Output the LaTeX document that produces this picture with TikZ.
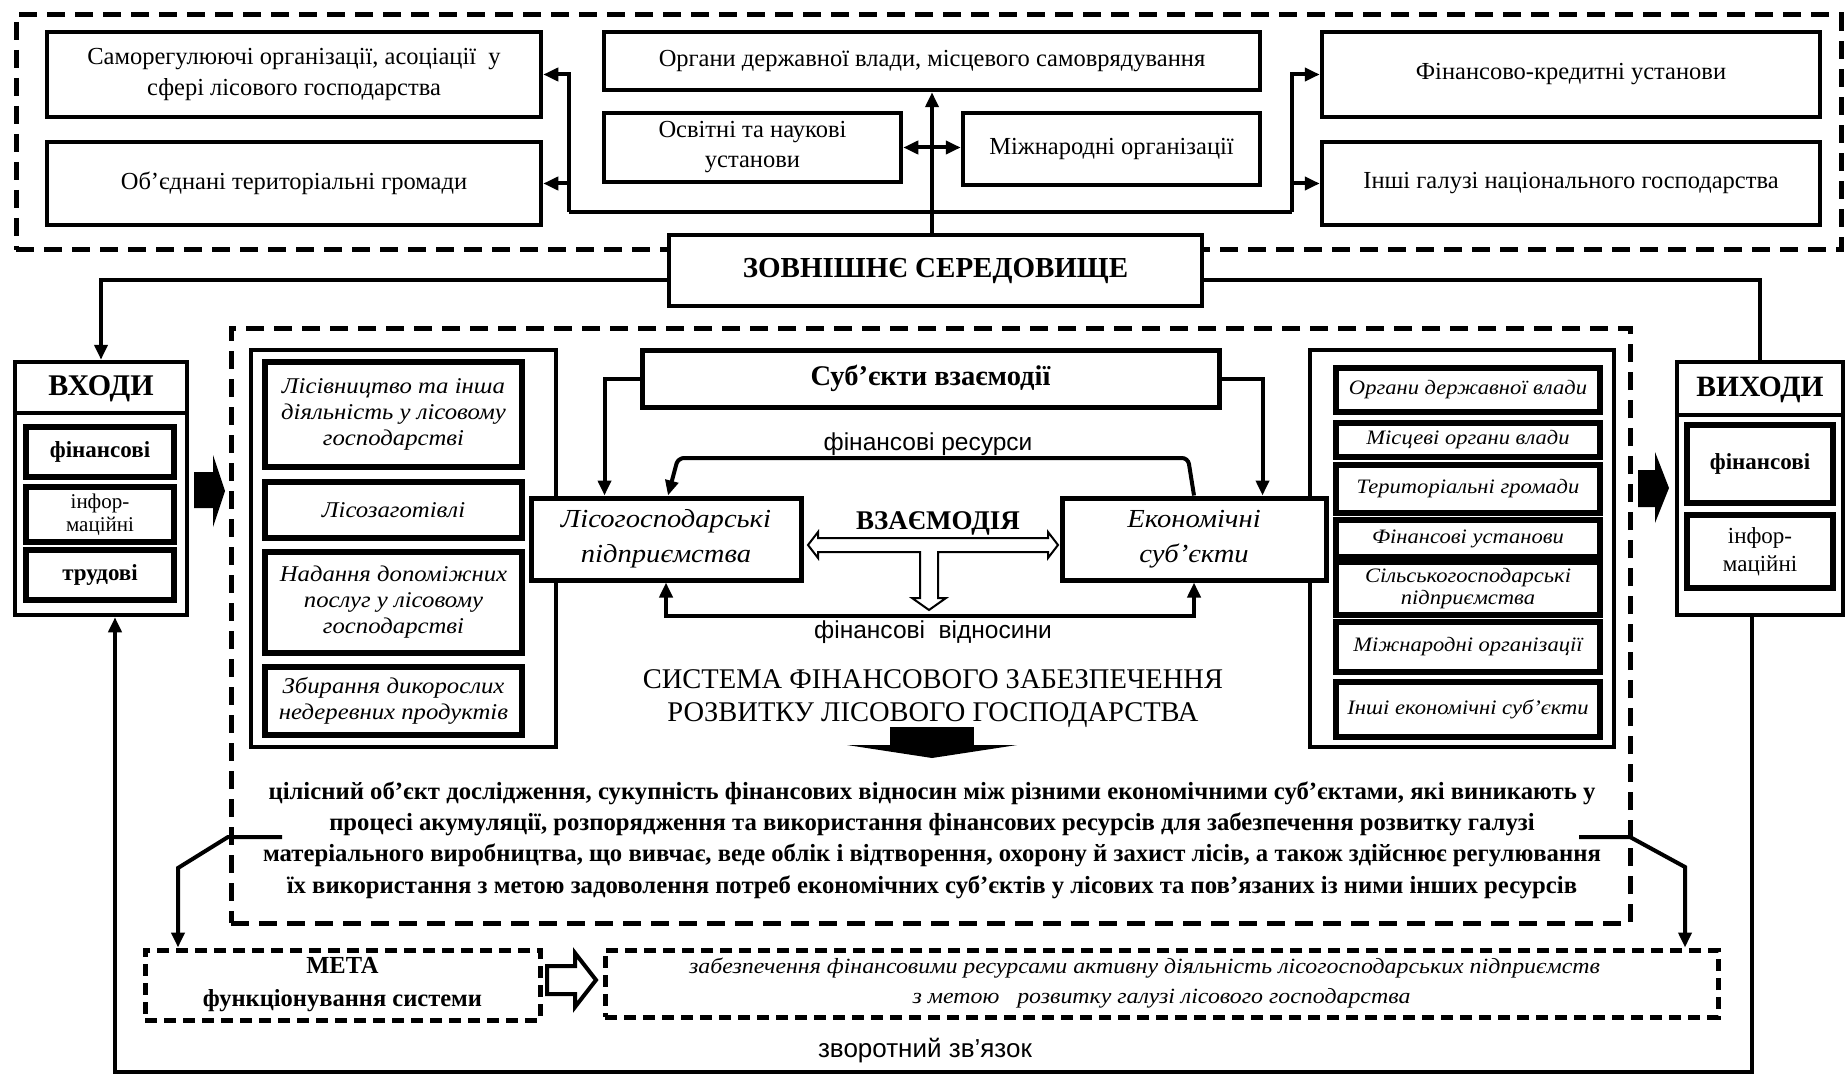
\documentclass[tikz,border=0pt]{standalone}
\usepackage{fontspec}
\setmainfont{Liberation Serif}
\setsansfont{Liberation Sans}
\newfontfamily\wideit{Liberation Serif}[FakeStretch=1.1]
\usetikzlibrary{arrows.meta}
\begin{document}
\begin{tikzpicture}[x=1pt,y=-1pt,
  sz/.style 2 args={minimum width=#1pt, minimum height=#2pt},
  box/.style={draw, line width=4.5pt, fill=white, align=center, inner sep=0pt, font=\fontsize{24.5}{30}\selectfont},
  ibox/.style={draw, line width=5.5pt, fill=white, align=center, inner sep=0pt, font=\wideit\itshape\fontsize{20.5}{23}\selectfont},
  lbox/.style={ibox, font=\wideit\itshape\fontsize{22.5}{26}\selectfont},
  cont/.style={draw, line width=4pt, fill=white, inner sep=0pt},
  vbox/.style={draw, line width=5.5pt, fill=white, align=center, inner sep=0pt},
  dbox/.style={draw, dash pattern=on 18pt off 10pt, line width=5pt, inner sep=0pt},
  mbox/.style={draw, dash pattern=on 12pt off 7pt, line width=5pt, inner sep=0pt, align=center},
  conn/.style={line width=4pt},
  tip/.tip={Triangle[length=15pt,width=13pt]},
  arr/.style={conn, -tip},
  darr/.style={conn, tip-tip},
  lbl/.style={font=\sffamily\fontsize{24.5}{26}\selectfont, inner sep=0pt}
]
\useasboundingbox (0,0) rectangle (1846,1075);
\fill[white] (0,0) rectangle (1846,1075);

% ===== external environment =====
\node[dbox, sz={1825}{235}] (ext) at (928.5,132.5) {};
\node[box, sz={494}{85}] (sro) at (294,74.5) {Саморегулюючі організації, асоціації\ \ у\\сфері лісового господарства};
\node[box, sz={494}{83}] (otg) at (294,183.5) {Об’єднані територіальні громади};
\node[box, sz={656}{58}] (organy) at (932,61) {Органи державної влади, місцевого самоврядування};
\node[box, sz={297}{69}] (osvit) at (752.5,147.5) {Освітні та наукові\\установи};
\node[box, sz={297}{72}] (mizhn) at (1111.5,149) {Міжнародні організації};
\node[box, sz={498}{85}] (fink) at (1571,74.5) {Фінансово-кредитні установи};
\node[box, sz={498}{83}] (inshi) at (1571,183.5) {Інші галузі національного господарства};
\node[box, sz={533}{71}, font=\bfseries\fontsize{29}{32}\selectfont] (zovn) at (935.5,270.5) {ЗОВНІШНЄ СЕРЕДОВИЩЕ};

\coordinate (L) at (569,212);
\coordinate (R) at (1292,212);
\draw[conn] (L) -- (R);
\draw[arr] (L) |- (sro.east);
\draw[arr] (otg.east -| L) -- (otg.east);
\draw[arr] (R) |- (fink.west);
\draw[arr] (inshi.west -| R) -- (inshi.west);
\draw[arr] (organy.south |- zovn.north) -- (organy.south);
\draw[darr] (osvit.east) -- (osvit.east -| mizhn.west);

% ===== inputs / outputs =====
\node[cont, line width=4.5pt, sz={172}{253}] (vhody) at (101,488.5) {};
\draw[line width=4pt] ([yshift=-53pt]vhody.north west) -- ([yshift=-53pt]vhody.north east);
\node[font=\bfseries\fontsize{30}{32}\selectfont, inner sep=0pt] (vhodyt) at (101,389) {ВХОДИ};
\node[vbox, sz={148}{50}, font=\bfseries\fontsize{23}{26}\selectfont] (vfin) at (100,452) {фінансові};
\node[vbox, sz={148}{55}, font=\fontsize{21}{23}\selectfont] (vinf) at (100,514.5) {інфор-\\маційні};
\node[vbox, sz={148}{50}, font=\bfseries\fontsize{23}{26}\selectfont] (vtrud) at (100,575) {трудові};

\node[cont, line width=4.5pt, sz={166}{253}] (vyhody) at (1760,488.5) {};
\draw[line width=4pt] ([yshift=-55pt]vyhody.north west) -- ([yshift=-55pt]vyhody.north east);
\node[font=\bfseries\fontsize{29.5}{32}\selectfont, inner sep=0pt] (vyhodyt) at (1760,390) {ВИХОДИ};
\node[vbox, sz={146}{78}, font=\bfseries\fontsize{23}{26}\selectfont] (yfin) at (1760,464) {фінансові};
\node[vbox, sz={146}{73}, font=\fontsize{23}{28}\selectfont] (yinf) at (1760,551.5) {інфор-\\маційні};

\draw[arr] ([yshift=-9pt]zovn.west) -| (vhody.north);
\draw[conn] ([yshift=-9pt]zovn.east) -| (vyhody.north);

% ===== system (big dashed) =====
\node[dbox, sz={1399}{595}] (sys) at (930.5,625.5) {};

% block arrows in/out
\fill (194,472) -- (213,472) -- (213,455) -- (225,491) -- (213,527) -- (213,508) -- (194,508) -- cycle;
\fill (1638,470) -- (1655,470) -- (1655,452) -- (1669,488) -- (1655,523) -- (1655,507) -- (1638,507) -- cycle;

% left container
\node[cont, sz={305}{397}] (lcont) at (403.5,548.5) {};
\node[lbox, sz={257}{105}] (l1) at (393.5,414.5) {Лісівництво та інша\\діяльність у лісовому\\господарстві};
\node[lbox, sz={257}{56}] (l2) at (393.5,510) {Лісозаготівлі};
\node[lbox, sz={257}{101}] (l3) at (393.5,602.5) {Надання допоміжних\\послуг у лісовому\\господарстві};
\node[lbox, sz={257}{68}] (l4) at (393.5,701) {Збирання дикорослих\\недеревних продуктів};

% right container
\node[cont, sz={304}{397}] (rcont) at (1462,548.5) {};
\node[ibox, sz={264}{44}] (r1) at (1468,390) {Органи державної влади};
\node[ibox, sz={264}{34}] (r2) at (1468,440) {Місцеві органи влади};
\node[ibox, sz={264}{48}] (r3) at (1468,489) {Територіальні громади};
\node[ibox, sz={264}{37}] (r4) at (1468,538.5) {Фінансові установи};
\node[ibox, sz={264}{53}, font=\wideit\itshape\fontsize{20.5}{22}\selectfont] (r5) at (1468,588.5) {Сільськогосподарські\\підприємства};
\node[ibox, sz={264}{50}] (r6) at (1468,647) {Міжнародні організації};
\node[ibox, sz={264}{55}] (r7) at (1468,709.5) {Інші економічні суб’єкти};

% subjects
\node[box, line width=5pt, sz={577}{57}, font=\bfseries\fontsize{28.5}{30}\selectfont] (subj) at (930.5,378.5) {Суб’єкти взаємодії};
\node[box, line width=5pt, sz={270}{82}, font=\wideit\itshape\fontsize{26}{35}\selectfont] (lisog) at (666,539) {Лісогосподарські\\підприємства};
\node[box, line width=5pt, sz={264}{82}, font=\wideit\itshape\fontsize{26}{35}\selectfont] (ekon) at (1194,539) {Економічні\\суб’єкти};

\draw[arr] (subj.west) -| ([xshift=76pt]lisog.north west);
\draw[arr] (subj.east) -| ([xshift=-66pt]ekon.north east);
\draw[arr, rounded corners=6pt] (ekon.north) -- (1188,458) -- (678,458) -- ([xshift=2pt]lisog.north);
\draw[darr] (lisog.south) -- ++(0,33) -| (ekon.south);
\node[lbl] (finres) at (928,444) {фінансові ресурси};
\node[lbl] (finvid) at (933,632) {фінансові\ \ відносини};
\node[font=\bfseries\fontsize{27}{30}\selectfont, inner sep=0pt] (vzaem) at (938,523) {ВЗАЄМОДІЯ};
\draw[line width=2pt, fill=white, line join=miter]
  (808,545) -- (818,532) -- (818,538) -- (1048,538) -- (1048,532) -- (1058,545) -- (1048,558) -- (1048,552)
  -- (938,552) -- (938,598) -- (946,598) -- (929,610) -- (912,598) -- (920,598) -- (920,552) -- (818,552) -- (818,558) -- cycle;

\node[font=\fontsize{28.5}{33}\selectfont, align=center, inner sep=0pt] (systitle) at (933,699) {СИСТЕМА ФІНАНСОВОГО ЗАБЕЗПЕЧЕННЯ\\РОЗВИТКУ ЛІСОВОГО ГОСПОДАРСТВА};
\fill (890,727) rectangle (974,746);
\fill (847,745) -- (1017,745) -- (932,758) -- cycle;

\node[font=\bfseries\fontsize{24.7}{31.3}\selectfont, align=center, inner sep=0pt] (desc) at (932,840)
 {цілісний об’єкт дослідження, сукупність фінансових відносин між різними економічними суб’єктами, які виникають у\\
  процесі акумуляції, розпорядження та використання фінансових ресурсів для забезпечення розвитку галузі\\
  матеріального виробництва, що вивчає, веде облік і відтворення, охорону й захист лісів, а також здійснює регулювання\\
  їх використання з метою задоволення потреб економічних суб’єктів у лісових та пов’язаних із ними інших ресурсів};

% ===== goal =====
\node[mbox, sz={395}{70}, font=\bfseries\fontsize{24.5}{33}\selectfont] (meta) at (342.5,985) {МЕТА\\функціонування системи};
\node[mbox, sz={1113}{67}, font=\wideit\itshape\fontsize{21.7}{30}\selectfont] (goal) at (1161.5,983.5) {забезпечення фінансовими ресурсами активну діяльність лісогосподарських підприємств\hspace*{34pt}\\з метою\ \ \ розвитку галузі лісового господарства};
\draw[line width=4pt, fill=white, line join=miter] (547,966) -- (575,966) -- (575,953) -- (596,980) -- (575,1007) -- (575,994) -- (547,994) -- cycle;

\coordinate (dl) at (282,837);
\coordinate (dl1) at (228,837);
\coordinate (dl2) at (178,868);
\coordinate (dr) at (1579,837);
\coordinate (dr1) at (1630,837);
\coordinate (dr2) at (1685,867);
\draw[arr] (dl) -- (dl1) -- (dl2) -- (dl2 |- meta.north);
\draw[arr] (dr) -- (dr1) -- (dr2) -- (dr2 |- goal.north);

% ===== feedback =====
\coordinate (fbk) at (930,1072);
\draw[arr] ([xshift=-8pt]vyhody.south) |- (fbk) -| ([xshift=14pt]vhody.south);
\node[lbl, font=\sffamily\fontsize{26}{28}\selectfont] (zvor) at (925,1051) {зворотний зв’язок};
\end{tikzpicture}
\end{document}
